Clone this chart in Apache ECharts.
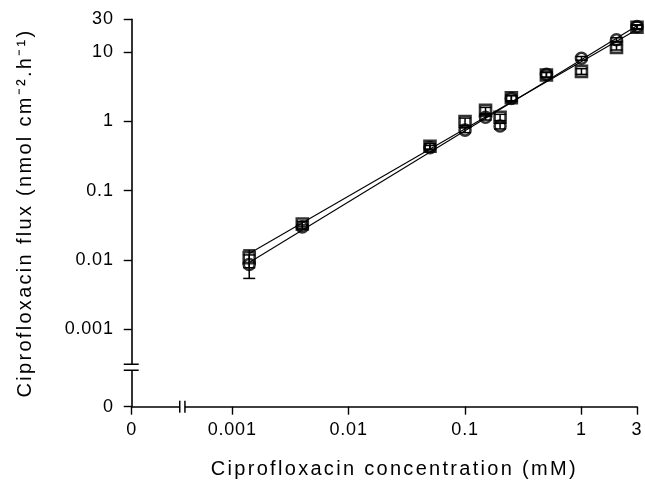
<!DOCTYPE html>
<html><head><meta charset="utf-8">
<script src="https://cdn.jsdelivr.net/npm/echarts@6/dist/echarts.min.js"></script>
<style>html,body{margin:0;padding:0;background:#fff}#c{width:645px;height:486px}</style>
</head><body><div id="c"></div>
<script>
// ---- data ----
const concentrations = [0.0014, 0.004, 0.05, 0.1, 0.15, 0.2, 0.25, 0.5, 1, 2, 3];
const fluxSquares = [0.0108, 0.033, 0.44, 1.0, 1.45, 1.15, 2.2, 4.7, 5.3, 11.8, 23];
const sdSquares   = [0.0031, 0.003, 0.04, 0.12, 0.15, 0.12, 0.2, 0.4, 0.5, 1.0, 1.5];
const fluxCircles = [0.0086, 0.030, 0.42, 0.75, 1.15, 0.86, 2.15, 4.8, 8.2, 15.2, 23.5];
const sdCircles   = [0.0032, 0.002, 0.03, 0.06, 0.1, 0.08, 0.2, 0.4, 0.5, 1.0, 1.5];
const fitSquares = [[0.0014, 0.0124], [3, 21.4]];
const fitCircles = [[0.0014, 0.0092], [3, 24.2]];
const xTickValues = [0.000137, 0.001, 0.01, 0.1, 1, 3];
const xTickLabels = ['0', '0.001', '0.01', '0.1', '1', '3'];
const yTickValues = [0.0000756, 0.001, 0.01, 0.1, 1, 10, 30];
const yTickLabels = ['0', '0.001', '0.01', '0.1', '1', '10', '30'];
const xTitle = 'Ciprofloxacin concentration (mM)';
const yTitle = 'Ciprofloxacin flux (nmol cm\u207B\u00B2.h\u207B\u00B9)';
const xBreakValue = 0.000373;
const yBreakValue = 0.000281;

// letter spacing like the typeset original (applied per font size)
(function () {
  const proto = CanvasRenderingContext2D.prototype;
  const orig = proto.fillText;
  proto.fillText = function (t, x, y, m) {
    const f = this.font || '';
    if ('letterSpacing' in this) {
      this.letterSpacing = /(^|\s)20px/.test(f) ? '2.3px' : (/(^|\s)18px/.test(f) ? '0.8px' : '0px');
    }
    return m === undefined ? orig.call(this, t, x, y) : orig.call(this, t, x, y, m);
  };
})();

const FONT = '"Liberation Sans", Arial, sans-serif';
function labelFor(vals, labels) {
  return function (v) {
    for (let i = 0; i < vals.length; i++) {
      if (Math.abs(Math.log10(v) - Math.log10(vals[i])) < 1e-3) return labels[i];
    }
    return '';
  };
}
function errorSeries(values, sds) {
  return {
    type: 'custom',
    silent: true,
    z: 4,
    renderItem: function (params, api) {
      const x = api.value(0), lo = api.value(1), hi = api.value(2);
      const pLo = api.coord([x, lo]), pHi = api.coord([x, hi]);
      const w = 6;
      const style = { stroke: '#000', lineWidth: 1.5, fill: null };
      return { type: 'group', children: [
        { type: 'line', shape: { x1: pLo[0], y1: pLo[1], x2: pHi[0], y2: pHi[1] }, style: style },
        { type: 'line', shape: { x1: pLo[0] - w, y1: pLo[1], x2: pLo[0] + w, y2: pLo[1] }, style: style },
        { type: 'line', shape: { x1: pHi[0] - w, y1: pHi[1], x2: pHi[0] + w, y2: pHi[1] }, style: style }
      ] };
    },
    encode: { x: 0, y: [1, 2] },
    data: concentrations.map((c, i) => [c, values[i] - sds[i], values[i] + sds[i]])
  };
}
function markerSeries(values, symbol) {
  return {
    type: 'scatter',
    symbol: symbol,
    symbolSize: 11,
    z: 5,
    itemStyle: { color: 'rgba(0,0,0,0)', borderColor: '#000', borderWidth: 2.6 },
    data: concentrations.map((c, i) => [c, values[i]])
  };
}
function fitSeries(pts) {
  return {
    type: 'line', showSymbol: false, symbol: 'none', z: 3, silent: true,
    lineStyle: { color: '#000', width: 1.1 },
    data: pts
  };
}

const chart = echarts.init(document.getElementById('c'));
const axisCommon = {
  type: 'log',
  logBase: 10,
  axisLine: { show: true, onZero: false, lineStyle: { color: '#000', width: 1.6 } },
  axisTick: { show: true, length: 8, lineStyle: { color: '#000', width: 1.4 } },
  splitLine: { show: false },
  minorTick: { show: false }
};
chart.setOption({
  animation: false,
  backgroundColor: '#fff',
  grid: { left: 131.7, right: 7.2, top: 19.3, bottom: 79.3, containLabel: false },
  xAxis: Object.assign({}, axisCommon, {
    min: xTickValues[0] * 0.9999,
    max: 3,
    axisTick: Object.assign({}, axisCommon.axisTick, { customValues: xTickValues }),
    axisLabel: { customValues: xTickValues, formatter: labelFor(xTickValues, xTickLabels),
      color: '#000', fontSize: 18, fontFamily: FONT, margin: 14, showMinLabel: true, showMaxLabel: true },
    name: xTitle,
    nameLocation: 'middle',
    nameGap: 53,
    nameTextStyle: { color: '#000', fontSize: 20, fontFamily: FONT, padding: [0, 0, 0, 20] }
  }),
  yAxis: Object.assign({}, axisCommon, {
    min: yTickValues[0] * 0.9999,
    max: 30,
    axisTick: Object.assign({}, axisCommon.axisTick, { customValues: yTickValues }),
    axisLabel: { customValues: yTickValues, formatter: labelFor(yTickValues, yTickLabels),
      color: '#000', fontSize: 18, fontFamily: FONT, margin: 18, showMinLabel: true, showMaxLabel: true },
    name: yTitle,
    nameLocation: 'middle',
    nameGap: 96,
    nameTextStyle: { color: '#000', fontSize: 20, fontFamily: FONT }
  }),
  series: [
    fitSeries(fitSquares),
    fitSeries(fitCircles),
    errorSeries(fluxSquares, sdSquares),
    errorSeries(fluxCircles, sdCircles),
    markerSeries(fluxSquares, 'rect'),
    markerSeries(fluxCircles, 'circle')
  ]
});

// axis break marks
const xb = chart.convertToPixel({ xAxisIndex: 0 }, xBreakValue);
const yb = chart.convertToPixel({ yAxisIndex: 0 }, yBreakValue);
const x0 = chart.convertToPixel({ xAxisIndex: 0 }, xTickValues[0]);
const y0 = chart.convertToPixel({ yAxisIndex: 0 }, yTickValues[0]);
const bs = { stroke: '#000', lineWidth: 1.5 };
chart.setOption({
  graphic: [
    { type: 'rect', shape: { x: xb - 2.5, y: y0 - 2, width: 5, height: 4 }, style: { fill: '#fff' }, z: 100 },
    { type: 'line', shape: { x1: xb - 2.6, y1: y0 - 6, x2: xb - 2.6, y2: y0 + 6 }, style: bs, z: 101 },
    { type: 'line', shape: { x1: xb + 2.6, y1: y0 - 6, x2: xb + 2.6, y2: y0 + 6 }, style: bs, z: 101 },
    { type: 'rect', shape: { x: x0 - 2, y: yb - 3, width: 4, height: 6 }, style: { fill: '#fff' }, z: 100 },
    { type: 'line', shape: { x1: x0 - 8, y1: yb - 3, x2: x0 + 7, y2: yb - 3 }, style: bs, z: 101 },
    { type: 'line', shape: { x1: x0 - 8, y1: yb + 3, x2: x0 + 7, y2: yb + 3 }, style: bs, z: 101 }
  ]
});
</script></body></html>
